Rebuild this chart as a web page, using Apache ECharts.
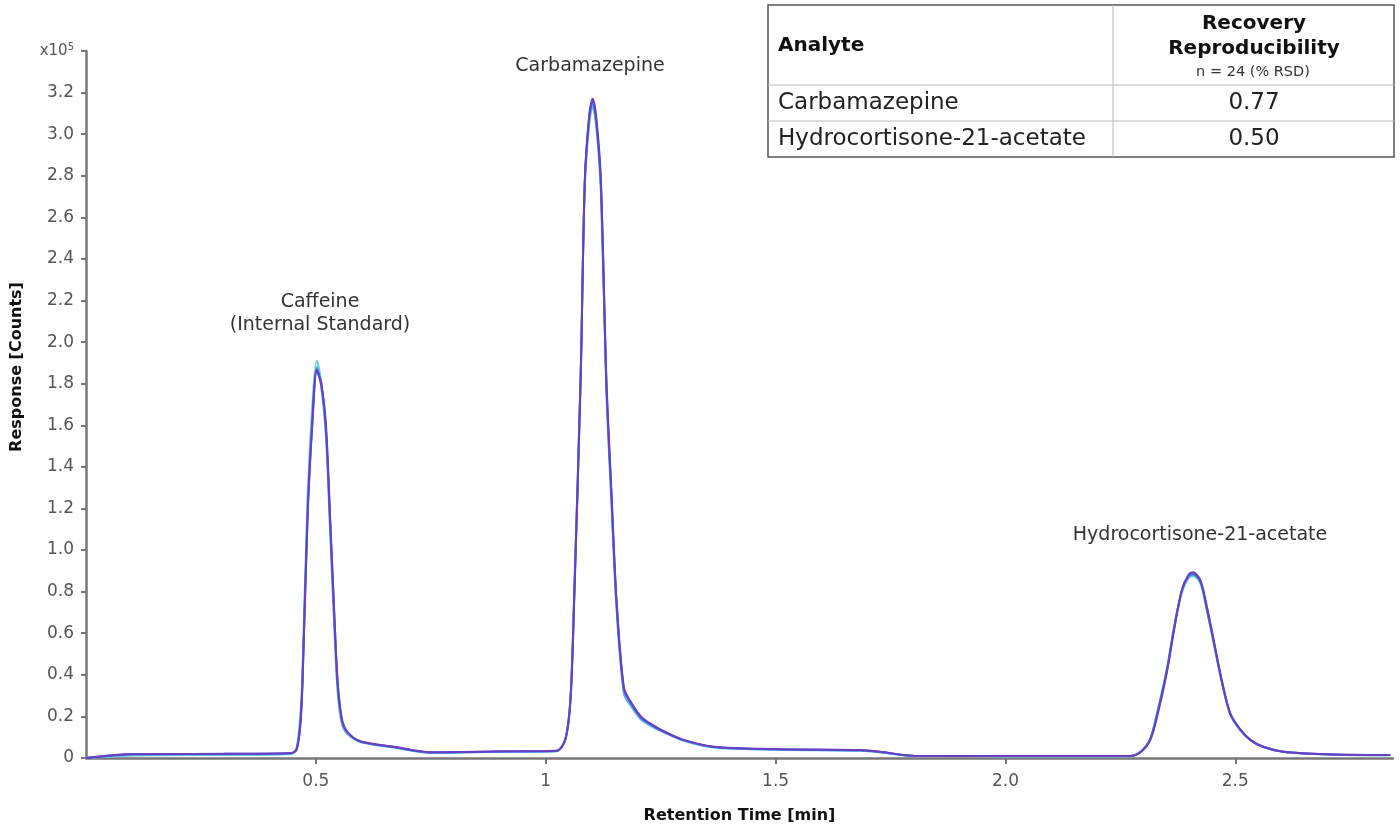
<!DOCTYPE html>
<html>
<head>
<meta charset="utf-8">
<script src="https://cdn.jsdelivr.net/npm/echarts@6/dist/echarts.min.js"></script>
<style>
  html, body { margin: 0; padding: 0; background: #fff; }
  #chart { width: 1400px; height: 829px; }
</style>
</head>
<body>
<div id="chart"></div>
<script>
// retention time [min], shared by all injections
var times = [0, 0.105, 0.3, 0.446, 0.458, 0.466, 0.471, 0.482, 0.493, 0.502,
  0.512, 0.522, 0.531, 0.540, 0.547, 0.555, 0.563, 0.58, 0.6, 0.67,
  0.75, 0.9, 1.0, 1.025, 1.043, 1.054, 1.062, 1.076, 1.085, 1.095,
  1.102, 1.11, 1.12, 1.132, 1.143, 1.154, 1.17, 1.185, 1.207, 1.228,
  1.26, 1.30, 1.366, 1.5, 1.685, 1.728, 1.8, 2.0, 2.272, 2.295,
  2.315, 2.33, 2.351, 2.368, 2.384, 2.398, 2.408, 2.424, 2.438, 2.453,
  2.47, 2.489, 2.51, 2.533, 2.56, 2.605, 2.7, 2.837];

// response, x10^5 counts
var runPurple = [0, 0.019, 0.02, 0.024, 0.04, 0.15, 0.36, 1.16, 1.64, 1.87,
  1.80, 1.60, 1.16, 0.70, 0.38, 0.21, 0.145, 0.10, 0.078, 0.054,
  0.028, 0.032, 0.034, 0.036, 0.09, 0.28, 0.76, 1.82, 2.78, 3.10,
  3.17, 3.08, 2.78, 1.82, 1.28, 0.76, 0.34, 0.27, 0.20, 0.165,
  0.125, 0.087, 0.054, 0.043, 0.038, 0.03, 0.011, 0.01, 0.01, 0.03,
  0.087, 0.20, 0.41, 0.63, 0.81, 0.88, 0.893, 0.856, 0.73, 0.567,
  0.38, 0.215, 0.14, 0.087, 0.055, 0.03, 0.018, 0.014];
var runBlue = [0, 0.018, 0.02, 0.023, 0.04, 0.16, 0.37, 1.17, 1.63, 1.86,
  1.79, 1.58, 1.14, 0.69, 0.37, 0.20, 0.14, 0.10, 0.077, 0.053,
  0.027, 0.031, 0.033, 0.035, 0.09, 0.29, 0.78, 1.83, 2.77, 3.09,
  3.16, 3.06, 2.76, 1.80, 1.26, 0.75, 0.33, 0.265, 0.195, 0.162,
  0.123, 0.086, 0.053, 0.042, 0.037, 0.029, 0.011, 0.01, 0.01, 0.031,
  0.09, 0.21, 0.42, 0.64, 0.81, 0.875, 0.885, 0.85, 0.72, 0.56,
  0.375, 0.212, 0.138, 0.086, 0.054, 0.03, 0.018, 0.014];
var runSky = [0, 0.014, 0.016, 0.02, 0.045, 0.18, 0.40, 1.22, 1.68, 1.88,
  1.78, 1.55, 1.10, 0.64, 0.33, 0.18, 0.13, 0.095, 0.075, 0.05,
  0.025, 0.03, 0.03, 0.033, 0.095, 0.30, 0.80, 1.86, 2.76, 3.07,
  3.14, 3.04, 2.72, 1.76, 1.22, 0.72, 0.31, 0.25, 0.185, 0.155,
  0.12, 0.083, 0.05, 0.04, 0.035, 0.028, 0.01, 0.009, 0.009, 0.032,
  0.095, 0.22, 0.43, 0.645, 0.80, 0.868, 0.88, 0.845, 0.71, 0.55,
  0.37, 0.21, 0.136, 0.085, 0.053, 0.029, 0.017, 0.013];
var runTeal = [0, 0.012, 0.015, 0.019, 0.05, 0.20, 0.42, 1.25, 1.72, 1.91,
  1.80, 1.56, 1.10, 0.65, 0.34, 0.19, 0.135, 0.098, 0.076, 0.052,
  0.026, 0.03, 0.031, 0.034, 0.092, 0.29, 0.78, 1.84, 2.75, 3.06,
  3.13, 3.04, 2.74, 1.78, 1.24, 0.73, 0.32, 0.26, 0.19, 0.158,
  0.121, 0.085, 0.052, 0.041, 0.036, 0.028, 0.01, 0.009, 0.009, 0.03,
  0.09, 0.21, 0.42, 0.64, 0.80, 0.865, 0.875, 0.84, 0.715, 0.555,
  0.372, 0.211, 0.137, 0.086, 0.054, 0.03, 0.017, 0.013];

var runNames = ['Injection A', 'Injection B', 'Injection C', 'Injection D'];
var runColors = ['#6fd3cb', '#5ab4ea', '#3f62dc', '#6b3fc3'];
var runValues = [runTeal, runSky, runBlue, runPurple];

var xTicks = [0.5, 1, 1.5, 2, 2.5];
var xTickText = {'0.5': '0.5', '1': '1', '1.5': '1.5', '2': '2.0', '2.5': '2.5'};

// recovery table
var tableAnalytes = ['Carbamazepine', 'Hydrocortisone-21-acetate'];
var tableRsd = ['0.77', '0.50'];

var FONT = 'DejaVu Sans';

function pairs(ys) {
    var out = [];
    for (var i = 0; i < times.length; i++) {
        out.push([times[i], ys[i]]);
    }
    return out;
}

var dom = document.getElementById('chart');
var myChart = echarts.init(dom);

var series = [];
for (var i = 0; i < runValues.length; i++) {
    series.push({
        name: runNames[i],
        type: 'line',
        data: pairs(runValues[i]),
        smooth: 0.3,
        showSymbol: false,
        symbol: 'none',
        lineStyle: { width: 2, color: runColors[i] },
        z: 2 + i
    });
}

// table drawing
var tx = 768, ty = 5, tw = 626, th = 152, colX = 1113, row1 = 85, row2 = 121;
var tableEls = [
    { type: 'rect', shape: { x: tx, y: ty, width: tw, height: th },
      style: { fill: '#fff', stroke: '#555', lineWidth: 1.5 } },
    { type: 'line', shape: { x1: colX, y1: ty, x2: colX, y2: ty + th },
      style: { stroke: '#bbb', lineWidth: 1 } },
    { type: 'line', shape: { x1: tx, y1: row1, x2: tx + tw, y2: row1 },
      style: { stroke: '#bbb', lineWidth: 1 } },
    { type: 'line', shape: { x1: tx, y1: row2, x2: tx + tw, y2: row2 },
      style: { stroke: '#bbb', lineWidth: 1 } },
    { type: 'text', x: 778, y: 46, style: { text: 'Analyte', font: 'bold 20px ' + FONT,
      fill: '#111', verticalAlign: 'middle' } },
    { type: 'text', x: 1254, y: 24, style: { text: 'Recovery', font: 'bold 20px ' + FONT,
      fill: '#111', align: 'center', verticalAlign: 'middle' } },
    { type: 'text', x: 1254, y: 49, style: { text: 'Reproducibility', font: 'bold 20px ' + FONT,
      fill: '#111', align: 'center', verticalAlign: 'middle' } },
    { type: 'text', x: 1253, y: 72, style: { text: 'n = 24 (% RSD)', font: '14.5px ' + FONT,
      fill: '#333', align: 'center', verticalAlign: 'middle' } }
];
var rowMid = [103, 139];
for (var r = 0; r < tableAnalytes.length; r++) {
    tableEls.push({ type: 'text', x: 778, y: rowMid[r], style: { text: tableAnalytes[r],
        font: '23px ' + FONT, fill: '#222', verticalAlign: 'middle' } });
    tableEls.push({ type: 'text', x: 1254, y: rowMid[r], style: { text: tableRsd[r],
        font: '23px ' + FONT, fill: '#222', align: 'center', verticalAlign: 'middle' } });
}

// peak names
var peakLabels = [
    { text: 'Caffeine', x: 320, y: 302 },
    { text: '(Internal Standard)', x: 320, y: 325 },
    { text: 'Carbamazepine', x: 590, y: 66 },
    { text: 'Hydrocortisone-21-acetate', x: 1200, y: 535 }
];
var labelEls = peakLabels.map(function (p) {
    return { type: 'text', x: p.x, y: p.y, style: { text: p.text, font: '19px ' + FONT,
        fill: '#333', align: 'center', verticalAlign: 'middle' } };
});
// y axis title, sits a bit above the plot centre as in the original
labelEls.push({ type: 'text', x: 17, y: 367, rotation: Math.PI / 2,
    style: { text: 'Response [Counts]', font: 'bold 16px ' + FONT, fill: '#111',
        align: 'center', verticalAlign: 'middle' } });

var option = {
    backgroundColor: '#fff',
    animation: false,
    grid: { left: 86, right: 7, top: 51, bottom: 71, containLabel: false },
    xAxis: {
        type: 'value',
        min: 0,
        max: 2.843,
        interval: 0.5,
        name: 'Retention Time [min]',
        nameLocation: 'middle',
        nameGap: 50,
        nameTextStyle: { fontFamily: FONT, fontWeight: 'bold', fontSize: 16, color: '#111' },
        axisLine: { show: true, lineStyle: { color: '#777', width: 2.5 } },
        axisTick: { show: true, length: 6, lineStyle: { color: '#777', width: 2 },
            customValues: xTicks },
        axisLabel: {
            customValues: xTicks,
            fontFamily: FONT, fontSize: 17, color: '#555', margin: 15,
            formatter: function (v) { return xTickText[String(v)] || ''; }
        },
        splitLine: { show: false }
    },
    yAxis: {
        type: 'value',
        min: 0,
        max: 3.4,
        interval: 0.2,
        axisLine: { show: true, lineStyle: { color: '#777', width: 2.5 } },
        axisTick: { show: true, length: 5, lineStyle: { color: '#777', width: 2 } },
        axisLabel: {
            fontFamily: FONT, fontSize: 17, color: '#555', margin: 12,
            formatter: function (v) {
                if (Math.abs(v - 3.4) < 1e-6) return '{m|x10}{s|5}';
                if (v === 0) return '0';
                return v.toFixed(1);
            },
            rich: {
                m: { fontFamily: FONT, fontSize: 15, color: '#555' },
                s: { fontFamily: FONT, fontSize: 10, color: '#555', verticalAlign: 'top', padding: [0, 0, 8, 0] }
            }
        },
        splitLine: { show: false }
    },
    series: series,
    graphic: labelEls.concat(tableEls)
};

myChart.setOption(option);
</script>
</body>
</html>
